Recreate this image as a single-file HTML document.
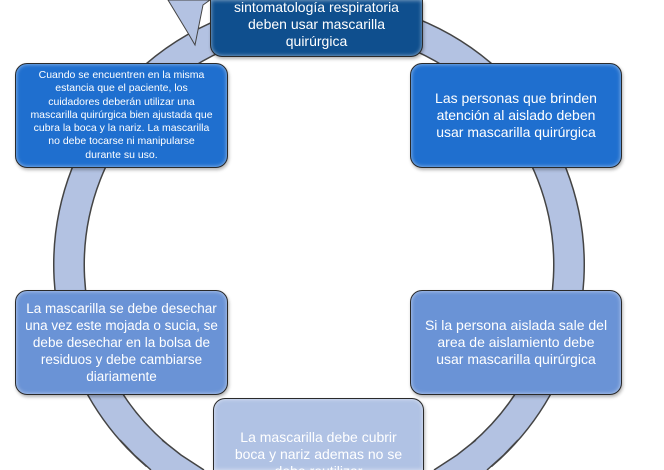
<!DOCTYPE html>
<html><head><meta charset="utf-8"><style>
html,body{margin:0;width:664px;height:470px;overflow:hidden}
body{background:#fff;position:relative;font-family:"Liberation Sans Narrow","Liberation Sans",sans-serif}
.b{position:absolute;box-sizing:border-box;border:1px solid #2a2a2a;border-radius:12px;color:#fff;display:flex;align-items:center;justify-content:center;text-align:center;box-shadow:inset 0 0 4px rgba(255,255,255,.6),1px 2px 3px rgba(0,0,0,.3);font-size:14px;line-height:17px;padding:0 4px;white-space:nowrap;overflow:hidden}
.t{position:absolute;left:0;right:0;text-align:center;overflow:hidden}
</style></head><body>
<svg width="664" height="470" viewBox="0 0 664 470" style="position:absolute;left:0;top:0;overflow:hidden">
<path d="M481.5,455 A250,250 0 1 0 156.5,455" fill="none" stroke="#444" stroke-width="32"/>
<path d="M481.5,455 A250,250 0 1 0 156.5,455" fill="none" stroke="#b3c2e2" stroke-width="29"/>
<polygon points="120.5,440 161.5,440 180.5,455 203.5,470 151.5,470 134.8,455" fill="#b3c2e2"/>
<polyline points="120,440 134.3,455 151,470" fill="none" stroke="#444" stroke-width="1.5"/>
<polyline points="162,440 181,455 204,470" fill="none" stroke="#444" stroke-width="1.5"/>
<polygon points="517.5,440 476.5,440 457.5,455 434.5,470 486.5,470 503.2,455" fill="#b3c2e2"/>
<polyline points="518,440 503.7,455 487,470" fill="none" stroke="#444" stroke-width="1.5"/>
<polyline points="476,440 457,455 434,470" fill="none" stroke="#444" stroke-width="1.5"/>
<polygon points="195,45 188,33 168,0 210,0 203,5" fill="#b3c2e2" stroke="#444" stroke-width="1"/>
</svg>
<div class="b" style="left:210px;top:0;width:213px;height:57px;background:#0f4f8e;border-top:none;border-radius:0 0 12px 12px;display:block"><div class="t" style="bottom:4px;height:53px">sintomatología respiratoria<br>deben usar mascarilla<br>quirúrgica</div></div>
<div class="b" style="left:15px;top:63px;width:213px;height:105px;background:#1f6fcf;font-size:10.5px;line-height:13.3px">Cuando se encuentren en la misma<br>estancia que el paciente, los<br>cuidadores deberán utilizar una<br>mascarilla quirúrgica bien ajustada que<br>cubra la boca y la nariz. La mascarilla<br>no debe tocarse ni manipularse<br>durante su uso.</div>
<div class="b" style="left:410px;top:63px;width:212px;height:105px;background:#1f6fcf">Las personas que brinden<br>atención al aislado deben<br>usar mascarilla quirúrgica</div>
<div class="b" style="left:15px;top:290px;width:213px;height:105px;background:#6a93d6;font-size:13.5px">La mascarilla se debe desechar<br>una vez este mojada o sucia, se<br>debe desechar en la bolsa de<br>residuos y debe cambiarse<br>diariamente</div>
<div class="b" style="left:410px;top:290px;width:212px;height:105px;background:#6a93d6">Si la persona aislada sale del<br>area de aislamiento debe<br>usar mascarilla quirúrgica</div>
<div class="b" style="left:213px;top:398px;width:211px;height:72px;background:#b0c2e4;border-bottom:none;border-radius:12px 12px 0 0;display:block"><div class="t" style="top:30px;height:41px">La mascarilla debe cubrir<br>boca y nariz ademas no se<br>debe reutilizar</div></div>
</body></html>
